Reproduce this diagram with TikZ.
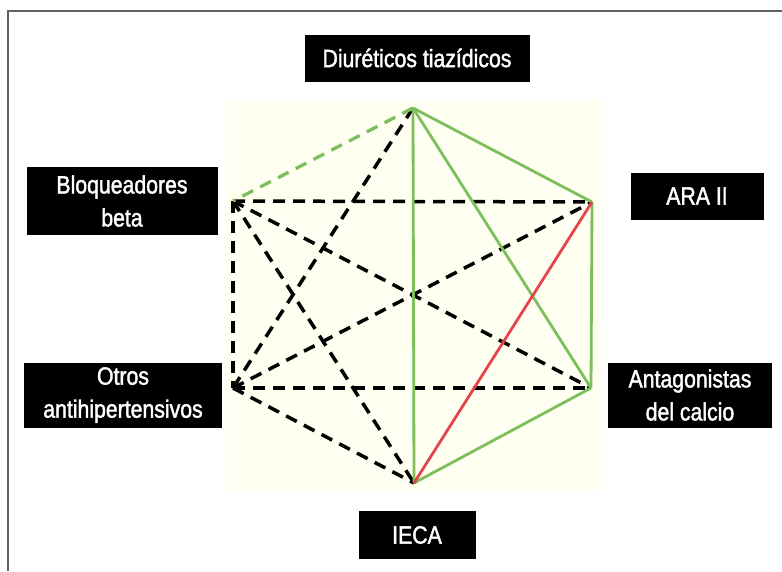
\documentclass[tikz,border=0pt]{standalone}
\usepackage{fontspec}
\setmainfont{Liberation Sans}[FakeStretch=0.85,FakeBold=1.6]
\usepackage{tikz}

\definecolor{verde}{HTML}{7CBF5C}
\definecolor{rojo}{HTML}{E6444B}
\definecolor{crema}{HTML}{FFFFF1}

\tikzset{
	etiqueta/.style={fill=black,text=white,align=center,inner sep=0pt,
		font=\fontsize{25}{33}\selectfont},
	negra/.style={black,line width=3.5pt,dash pattern=on 12pt off 8pt},
	verdelin/.style={verde,line width=2.8pt},
	verdedash/.style={verde,line width=3.3pt,dash pattern=on 12pt off 8pt},
	rojalin/.style={rojo,line width=2.8pt}
}

\begin{document}
\begin{tikzpicture}[x=1pt,y=-1pt]
		\useasboundingbox (0,0) rectangle (782,571);
		\fill[white] (0,0) rectangle (782,571);
		\draw[gray!75!black,line width=1.5pt] (8,571) -- (8,11) -- (782,11);
		\fill[crema] (226,100) rectangle (602,490);
		% vertices
		\coordinate (diu) at (413,108);
		\coordinate (bb) at (233,201);
		\coordinate (ara) at (592,202);
		\coordinate (cal) at (591,388);
		\coordinate (otr) at (233,388);
		\coordinate (ieca) at (414,483);
		% etiquetas
		\node[etiqueta,minimum width=225pt,minimum height=47pt] (diuL) at (417,58) {Diuréticos tiazídicos};
		\node[etiqueta,minimum width=191pt,minimum height=68pt] (bbL) at (122,201) {Bloqueadores\\beta};
		\node[etiqueta,minimum width=133pt,minimum height=47pt] (araL) at (697,196) {ARA II};
		\node[etiqueta,minimum width=198pt,minimum height=65pt] (otrL) at (123,395) {Otros\\antihipertensivos};
		\node[etiqueta,minimum width=164pt,minimum height=65pt] (calL) at (690,395) {Antagonistas\\del calcio};
		\node[etiqueta,minimum width=117pt,minimum height=48pt] (iecaL) at (417,535) {IECA};
		% combinaciones
		\draw[negra] (bb) -- (ara);
		\draw[negra] (otr) -- (cal);
		\draw[negra] (bb) -- (otr);
		\draw[negra] (bb) -- (cal);
		\draw[negra] (otr) -- (ara);
		\draw[negra] (diu) -- (otr);
		\draw[negra] (bb) -- (ieca);
		\draw[negra] (otr) -- (ieca);
		\draw[verdedash] (diu) -- (bb);
		\draw[verdelin] (diu) -- (ieca);
		\draw[verdelin] (diu) -- (cal);
		\draw[verdelin] (diu) -- (ara);
		\draw[verdelin] (ara) -- (cal);
		\draw[verdelin] (ieca) -- (cal);
		\draw[rojalin] (ieca) -- (ara);
		\end{tikzpicture}
\end{document}
